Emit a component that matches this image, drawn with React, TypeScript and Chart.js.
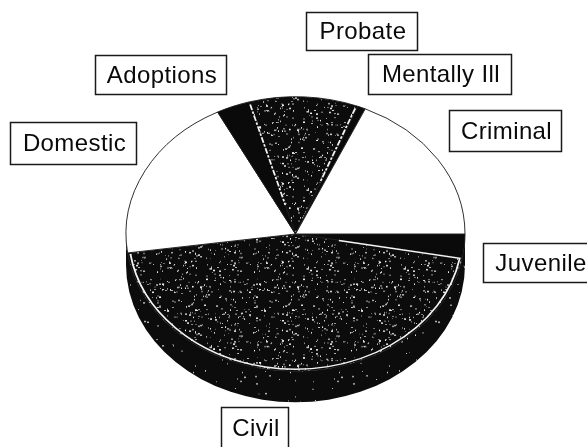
import React, { useEffect, useRef } from "react";
import { Chart, registerables } from "chart.js";

Chart.register(...registerables);

const categories = ["Juvenile", "Civil", "Domestic", "Adoptions", "Probate", "Mentally Ill", "Criminal"];
const shares = [2.8, 45, 19.6, 3.2, 10.4, 0.75, 18.25];

// Label boxes, by category: [left, top, width, height]
const labelBoxes: Record<string, number[]> = {
  Probate: [306, 12, 112, 39],
  Adoptions: [95, 55, 132, 40],
  "Mentally Ill": [368, 54, 144, 41],
  Criminal: [449, 110, 113, 42],
  Domestic: [10, 122, 127, 43],
  Juvenile: [483, 243, 114, 40],
  Civil: [221, 407, 68, 42],
};

const SQUASH = 0.81;
const DEPTH = 31 / SQUASH;

function speckle(density: number, seed: number): CanvasPattern | string {
  const c = document.createElement("canvas");
  c.width = c.height = 97;
  const g = c.getContext("2d");
  if (!g) return "#111";
  g.fillStyle = "#0c0c0c";
  g.fillRect(0, 0, 97, 97);
  let s = seed;
  for (let i = 0; i < density; i++) {
    s = (s * 1103515245 + 12345) & 0x7fffffff;
    const x = (s >> 7) % 97;
    s = (s * 1103515245 + 12345) & 0x7fffffff;
    const y = (s >> 7) % 97;
    s = (s * 1103515245 + 12345) & 0x7fffffff;
    const v = 90 + ((s >> 5) % 160);
    g.fillStyle = `rgb(${v},${v},${v})`;
    g.fillRect(x, y, 1 + ((s >> 12) % 2), 1 + ((s >> 15) % 2));
  }
  return g.createPattern(c, "repeat") || "#111";
}

export default function App() {
  const ref = useRef<HTMLCanvasElement>(null);
  useEffect(() => {
    if (!ref.current) return;
    const dense = speckle(330, 7);
    const sparse = speckle(45, 31);
    const colors = ["#0a0a0a", dense, "#ffffff", "#0a0a0a", dense, "#0a0a0a", "#ffffff"];

    const squash3d = {
      id: "squash3d",
      beforeDatasetsDraw(chart: any) {
        const { ctx } = chart;
        const arc = chart.getDatasetMeta(0).data[0];
        ctx.save();
        ctx.translate(arc.x, arc.y);
        ctx.scale(1, SQUASH);
        ctx.translate(-arc.x, -arc.y);
        // side wall below the top face
        ctx.fillStyle = sparse;
        ctx.beginPath();
        ctx.arc(arc.x, arc.y + DEPTH, arc.outerRadius, 0, Math.PI);
        ctx.lineTo(arc.x - arc.outerRadius, arc.y);
        ctx.arc(arc.x, arc.y, arc.outerRadius, Math.PI, 0, true);
        ctx.closePath();
        ctx.fill();
      },
      afterDatasetsDraw(chart: any) {
        const { ctx } = chart;
        const data = chart.getDatasetMeta(0).data;
        const civil = data[categories.indexOf("Civil")];
        const probate = data[categories.indexOf("Probate")];
        const { x, y, outerRadius: r } = civil;
        const at = (a: number, k: number) => [x + Math.cos(a) * r * k, y + Math.sin(a) * r * k];
        ctx.strokeStyle = "#f4f4f4";
        ctx.lineWidth = 1.8;
        // highlight along the civil slice
        ctx.beginPath();
        const p0 = at(civil.startAngle + 0.005, 0.26);
        const p1 = at(civil.startAngle + 0.005, 0.985);
        ctx.moveTo(p0[0], p0[1]);
        ctx.lineTo(p1[0], p1[1]);
        ctx.arc(x, y, r * 0.985, civil.startAngle + 0.005, civil.endAngle - 0.01);
        ctx.stroke();
        // highlight along the probate slice
        ctx.setLineDash([7, 2, 3, 2]);
        ctx.beginPath();
        let a = at(probate.startAngle, 0.98);
        let b = at(probate.startAngle, 0.22);
        ctx.moveTo(a[0], a[1]);
        ctx.lineTo(b[0], b[1]);
        a = at(probate.endAngle - 0.01, 0.98);
        b = at(probate.endAngle - 0.01, 0.4);
        ctx.moveTo(a[0], a[1]);
        ctx.lineTo(b[0], b[1]);
        ctx.stroke();
        ctx.restore();

        // label boxes
        ctx.save();
        ctx.font = "24px 'Liberation Sans', Arial, sans-serif";
        ctx.textAlign = "center";
        ctx.textBaseline = "middle";
        (ctx as any).letterSpacing = "0.4px";
        categories.forEach((name) => {
          const [l, t, w, h] = labelBoxes[name];
          ctx.fillStyle = "#ffffff";
          ctx.fillRect(l, t, w, h);
          ctx.strokeStyle = "#1a1a1a";
          ctx.lineWidth = 1.5;
          ctx.strokeRect(l + 0.5, t + 0.5, w - 1, h - 1);
          ctx.fillStyle = "#0a0a0a";
          ctx.fillText(name, l + w / 2 + 1, t + h / 2 + 1);
        });
        ctx.restore();
      },
    };

    const chart = new Chart(ref.current, {
      type: "pie",
      data: {
        labels: categories,
        datasets: [
          {
            data: shares,
            backgroundColor: colors as any,
            borderColor: "#1a1a1a",
            borderWidth: 1,
          },
        ],
      },
      options: {
        responsive: false,
        animation: false,
        rotation: 90,
        layout: { padding: { left: 125, right: 121, top: 64, bottom: 43 } },
        plugins: { legend: { display: false }, tooltip: { enabled: false } },
      },
      plugins: [squash3d as any],
    });
    return () => chart.destroy();
  }, []);
  return (
    <canvas
      ref={ref}
      width={587}
      height={447}
      style={{ position: "fixed", left: 0, top: 0, width: 587, height: 447, background: "#fff" }}
    />
  );
}
